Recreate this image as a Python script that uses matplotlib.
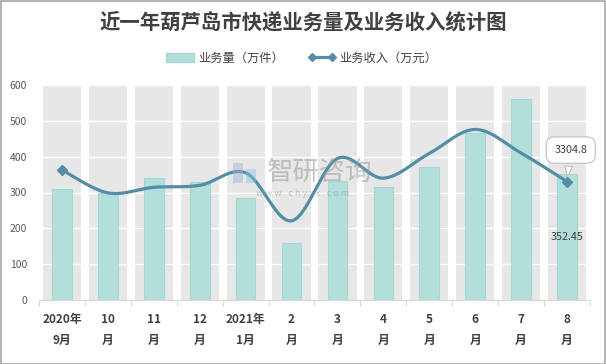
import numpy as np
import matplotlib
matplotlib.use("Agg")
import matplotlib.pyplot as plt
from matplotlib.lines import Line2D
from matplotlib.patches import Patch, Rectangle

plt.rcParams['font.family'] = ['Noto Sans CJK SC', 'DejaVu Sans']

categories = ["2020年\n9月", "10\n月", "11\n月", "12\n月", "2021年\n1月", "2\n月",
              "3\n月", "4\n月", "5\n月", "6\n月", "7\n月", "8\n月"]
volume = [311, 299, 340, 328, 285, 160, 333, 316, 372, 465, 560, 352.45]
revenue = [3630, 2990, 3145, 3200, 3550, 2210, 3950, 3400, 4090, 4760, 4100, 3304.8]
yticks = [0, 100, 200, 300, 400, 500, 600]

W, H = 606, 364
fig = plt.figure(figsize=(W / 100, H / 100), dpi=100)
fig.patch.set_facecolor('white')
fig.add_artist(Rectangle((0.5 / W, 0.5 / H), 1 - 1.5 / W, 1 - 1.5 / H, transform=fig.transFigure,
                         fill=False, ec='#A6A6A6', lw=1.2))

left, right, top, bottom = 39, 590, 85, 300
ax = fig.add_axes([left / W, 1 - bottom / H, (right - left) / W, (bottom - top) / H])
n = len(categories)
x = np.arange(n)
ax.set_xlim(-0.5, n - 0.5)
ax.set_ylim(0, 600)

ax.bar(x, [600] * n, width=0.83, color='#E7E7E7', zorder=0)
for v in yticks[1:]:
    ax.axhline(v, color='white', lw=1.0, zorder=1)

ax.bar(x, volume, width=0.43, color='#B3DFDB', edgecolor='#A5D8D3', lw=0.8, zorder=2)

for s in ['top', 'right', 'left']:
    ax.spines[s].set_visible(False)
ax.spines['bottom'].set_color('#D9D9D9')
ax.set_yticks(yticks)
ax.set_yticklabels([str(v) for v in yticks], fontsize=7.5, color='#595959')
ax.tick_params(axis='y', length=0, pad=8.5)
ax.set_xticks(np.arange(-0.5, n, 1.0))
ax.set_xticklabels([])
ax.tick_params(axis='x', length=4, color='#D9D9D9')
for i, c in enumerate(categories):
    ax.text(i, -0.06, c, transform=ax.get_xaxis_transform(), ha='center', va='top',
            fontsize=8.5, fontweight='bold', color='#404040', linespacing=1.85)

ax2 = ax.twinx()
ax2.set_ylim(0, 6000)
ax2.set_xlim(-0.5, n - 0.5)
ax2.axis('off')

# Catmull-Rom smoothing through the data points
px = np.array(x, float)
py = np.array(revenue, float)
P = np.column_stack([px, py])
pts = []
for i in range(n - 1):
    p0 = P[i - 1] if i > 0 else P[i]
    p1, p2 = P[i], P[i + 1]
    p3 = P[i + 2] if i + 2 < n else P[i + 1]
    c1 = p1 + (p2 - p0) / 6
    c2 = p2 - (p3 - p1) / 6
    t = np.linspace(0, 1, 30)[:, None]
    seg = (1 - t) ** 3 * p1 + 3 * (1 - t) ** 2 * t * c1 + 3 * (1 - t) * t ** 2 * c2 + t ** 3 * p2
    pts.append(seg if i == 0 else seg[1:])
curve = np.vstack(pts)
lc = '#538DA6'
ax2.plot(curve[:, 0], curve[:, 1], color=lc, lw=2.3, zorder=5, solid_capstyle='round')
ax2.plot([px[0], px[-1]], [py[0], py[-1]], 'D', color=lc, ms=5, zorder=6)

ax2.annotate(f"{revenue[-1]}", xy=(px[-1], py[-1] + 60), xytext=(px[-1] + 0.08, py[-1] + 880),
             ha='center', va='center', fontsize=7.8, color='#404040',
             bbox=dict(boxstyle='round,pad=0.75', fc='white', ec='#BFBFBF', lw=0.8),
             arrowprops=dict(arrowstyle='wedge,tail_width=0.7,shrink_factor=0.5', fc='white',
                             ec='#BFBFBF', lw=0.8), zorder=7)
ax.text(x[-1], 176, f"{volume[-1]}", ha='center', va='center', fontsize=7.8, color='#404040', zorder=7)

# watermark
fig.add_artist(Rectangle((233 / W, 1 - 183 / H), 10 / W, 20 / H, transform=fig.transFigure,
                         fc='#9FB3CF', ec='none', alpha=0.45))
fig.add_artist(Rectangle((246 / W, 1 - 183 / H), 10 / W, 14 / H, transform=fig.transFigure,
                         fc='#8FC3E6', ec='none', alpha=0.45))
fig.text(320 / W, 1 - 172 / H, "智研咨询", fontsize=19, color='#9A9A9A', alpha=0.55, ha='center', va='center')
fig.text(303 / W, 1 - 194 / H, "w w w . c h y x x . c o m", fontsize=6.5, color='#9A9A9A', alpha=0.55,
         ha='center', va='center')

fig.text(0.5, 1 - 22 / H, "近一年葫芦岛市快递业务量及业务收入统计图", ha='center', va='center',
         fontsize=14.7, fontweight='bold', color='#404040')

handles = [Patch(facecolor='#B3DFDB', edgecolor='#A5D8D3'),
           Line2D([0], [0], color=lc, lw=2.3, marker='D', ms=4)]
fig.legend(handles, ["业务量（万件）", "业务收入（万元）"], loc='center left',
           bbox_to_anchor=(166 / W, 1 - 58 / H),
           ncol=2, frameon=False, fontsize=8.8, numpoints=2, handlelength=2.3, columnspacing=2.0,
           handletextpad=0.3, labelcolor='#404040', borderaxespad=0, borderpad=0)

fig.savefig("out.png", dpi=100, facecolor='white')
